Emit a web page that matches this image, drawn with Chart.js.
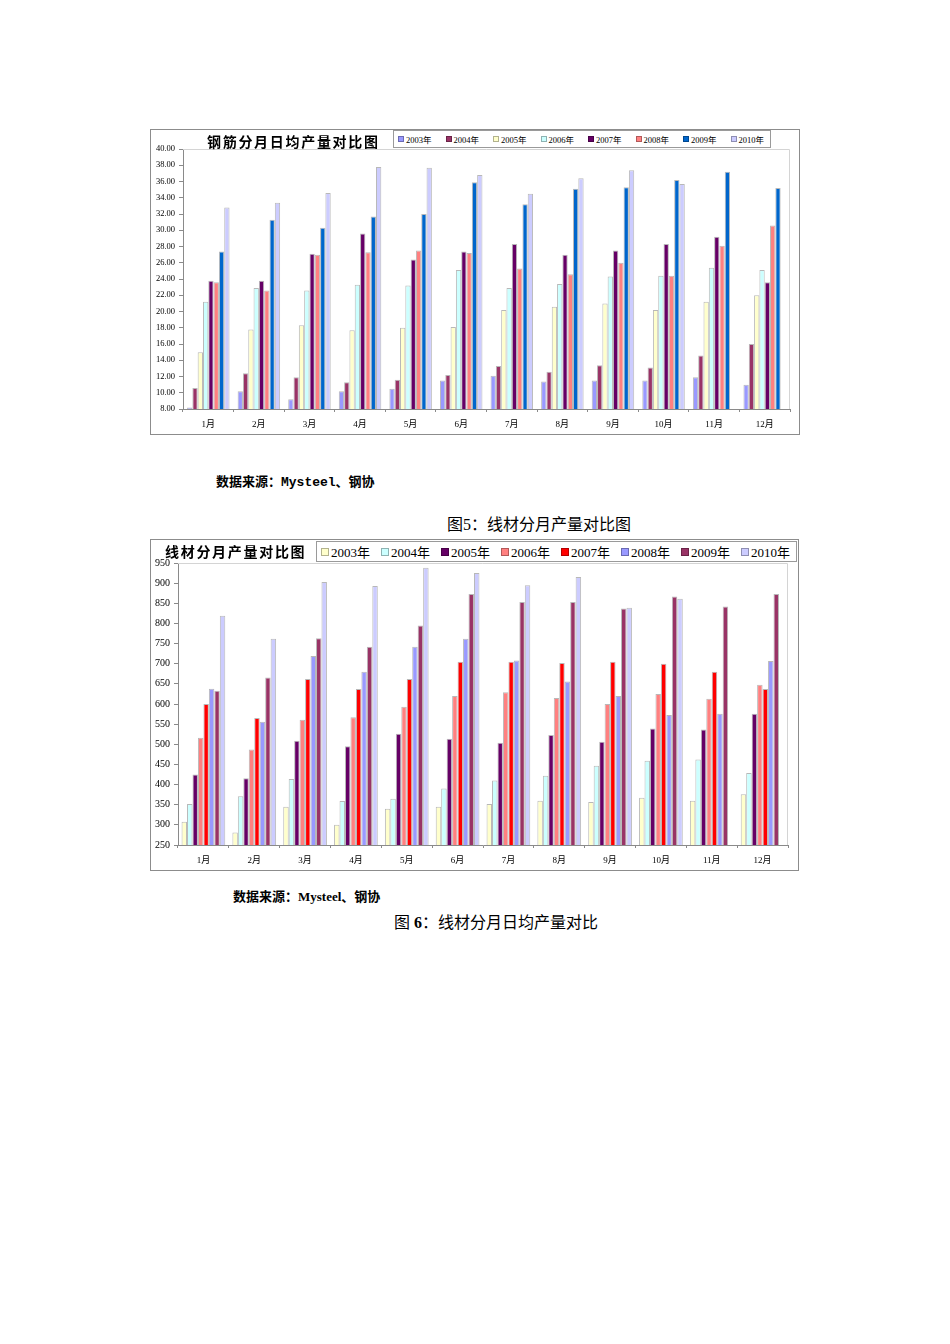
<!DOCTYPE html>
<html lang="zh-CN">
<head>
<meta charset="utf-8">
<title>钢筋 / 线材分月产量对比</title>
<script src="https://cdn.jsdelivr.net/npm/chart.js@4.4.1/dist/chart.umd.min.js"></script>
<style>
  html, body { margin: 0; padding: 0; background: #fff; }
  body { width: 950px; height: 1344px; position: relative; color: #000; font-family: "Noto Sans CJK SC", sans-serif; }
  .frame { position: absolute; border: 1px solid #8c8c8c; background: #fff; }
  .frame canvas { display: block; }
  .title { position: absolute; font-weight: bold; font-size: 14px; letter-spacing: 1.7px; white-space: nowrap; line-height: 14px; }
  .legend { position: absolute; border: 1px solid #9a9a9a; background: #fff; display: flex; align-items: center; box-sizing: border-box; font-family: "Liberation Serif", "Noto Sans CJK SC", serif; white-space: nowrap; }
  .legend .item { display: flex; align-items: center; flex: none; }
  .legend i { display: inline-block; box-sizing: border-box; border: 1px solid rgba(0,0,0,.3); margin-right: 2px; }
  .cap { position: absolute; white-space: nowrap; }
</style>
</head>
<body>

<div class="frame" style="left:150px;top:129px;width:648px;height:304px;"><canvas id="rebarChart"></canvas></div>
<div class="title" style="left:207px;top:134px;">钢筋分月日均产量对比图</div>
<div class="legend" id="rebarLegend" style="left:393px;top:130px;width:378px;height:18px;padding-left:4px;font-size:8.5px;"></div>

<div class="cap" style="left:216px;top:471px;font-size:13px;font-weight:bold;font-family:'Liberation Mono','Noto Sans CJK SC',monospace;">数据来源：Mysteel、钢协</div>
<div class="cap" style="left:447px;top:511px;font-size:16px;">图<span style="font-family:'Liberation Serif';">5</span>：线材分月产量对比图</div>

<div class="frame" style="left:150px;top:539px;width:647px;height:330px;"><canvas id="wireChart"></canvas></div>
<div class="title" style="left:165px;top:544px;">线材分月产量对比图</div>
<div class="legend" id="wireLegend" style="left:316px;top:541px;width:481px;height:21px;padding-left:4px;font-size:13px;"></div>

<div class="cap" style="left:233px;top:886px;font-size:13px;font-weight:bold;font-family:'Liberation Serif','Noto Sans CJK SC',serif;">数据来源：Mysteel、钢协</div>
<div class="cap" style="left:394px;top:909px;font-size:16px;">图<span style="font-family:'Liberation Serif';font-weight:bold;"> 6</span>：线材分月日均产量对比</div>

<script>
const months = ["1月", "2月", "3月", "4月", "5月", "6月", "7月", "8月", "9月", "10月", "11月", "12月"];
const years = ["2003年", "2004年", "2005年", "2006年", "2007年", "2008年", "2009年", "2010年"];

// 钢筋分月日均产量 (万吨)
const rebar2003 = [8.2, 10.2, 9.2, 10.2, 10.5, 11.5, 12.1, 11.4, 11.5, 11.5, 11.9, 11.0];
const rebar2004 = [10.6, 12.4, 11.9, 11.3, 11.6, 12.2, 13.3, 12.6, 13.4, 13.1, 14.6, 16.0];
const rebar2005 = [15.0, 17.8, 18.3, 17.7, 18.0, 18.1, 20.2, 20.6, 21.0, 20.2, 21.2, 22.0];
const rebar2006 = [21.2, 22.9, 22.6, 23.3, 23.2, 25.1, 22.9, 23.4, 24.3, 24.4, 25.4, 25.1];
const rebar2007 = [23.8, 23.8, 27.1, 29.6, 26.4, 27.4, 28.3, 27.0, 27.5, 28.3, 29.2, 23.6];
const rebar2008 = [23.6, 22.6, 27.0, 27.3, 27.5, 27.2, 25.3, 24.6, 26.0, 24.4, 28.1, 30.6];
const rebar2009 = [27.4, 31.3, 30.3, 31.7, 32.0, 35.9, 33.2, 35.1, 35.3, 36.2, 37.2, 35.2];
const rebar2010 = [32.8, 33.4, 34.6, 37.8, 37.7, 36.8, 34.5, 36.4, 37.4, 35.7, null, null];
const rebarColors = ["#9999FF", "#993366", "#FFFFCC", "#CCFFFF", "#660066", "#FF8080", "#0066CC", "#CCCCFF"];

// 线材分月产量 (万吨)
const wire2003 = [308, 281, 345, 300, 340, 345, 352, 360, 357, 367, 360, 376];
const wire2004 = [352, 371, 414, 359, 365, 390, 410, 422, 447, 459, 462, 429];
const wire2005 = [425, 416, 509, 495, 526, 514, 504, 523, 506, 539, 537, 576];
const wire2006 = [516, 487, 561, 567, 593, 620, 629, 615, 600, 625, 613, 648];
const wire2007 = [600, 565, 662, 637, 662, 705, 705, 702, 705, 700, 680, 637];
const wire2008 = [638, 556, 719, 680, 742, 762, 708, 656, 620, 573, 576, 707];
const wire2009 = [633, 666, 763, 742, 795, 873, 853, 853, 837, 867, 842, 873];
const wire2010 = [819, 762, 903, 893, 938, 925, 895, 915, 839, 861, null, null];
const wireColors = ["#FFFFCC", "#CCFFFF", "#660066", "#FF8080", "#FF0000", "#9999FF", "#993366", "#CCCCFF"];

const rebarSeries = [rebar2003, rebar2004, rebar2005, rebar2006, rebar2007, rebar2008, rebar2009, rebar2010];
const wireSeries = [wire2003, wire2004, wire2005, wire2006, wire2007, wire2008, wire2009, wire2010];

// light frame on top / right of the plot area
const plotFrame = {
    id: 'plotFrame',
    beforeDatasetsDraw(chart) {
        const a = chart.chartArea, c = chart.ctx;
        c.save();
        c.strokeStyle = '#d4d4d4';
        c.lineWidth = 1;
        c.beginPath();
        c.moveTo(a.left, a.top + 0.5);
        c.lineTo(a.right - 0.5, a.top + 0.5);
        c.lineTo(a.right - 0.5, a.bottom);
        c.stroke();
        c.restore();
    }
};

function makeChart(id, series, colors, yMin, yMax, yStep, decimals, opt) {
    const ctx = document.getElementById(id).getContext('2d');
    return new Chart(ctx, {
        type: 'bar',
        data: {
            labels: months,
            datasets: years.map((y, i) => ({
                label: y,
                data: series[i],
                backgroundColor: colors[i],
                borderColor: 'rgba(0,0,0,0.28)',
                borderWidth: 1,
                barPercentage: 1.0,
                categoryPercentage: opt.cat
            }))
        },
        options: {
            responsive: true,
            maintainAspectRatio: false,
            animation: false,
            layout: { padding: { top: opt.padTop, right: opt.padRight, left: 0, bottom: 0 } },
            plugins: { legend: { display: false }, tooltip: { enabled: false } },
            scales: {
                x: {
                    grid: { offset: true, drawOnChartArea: false, tickLength: 3, color: '#8a8a8a' },
                    border: { color: '#8a8a8a' },
                    ticks: { color: '#000', padding: 7, maxRotation: 0, font: { family: '"Liberation Serif", "Noto Sans CJK SC", serif', size: 9 } },
                    afterFit: (s) => { s.height = 25; }
                },
                y: {
                    min: yMin,
                    max: yMax,
                    grid: { drawOnChartArea: false, tickLength: 4, color: '#8a8a8a' },
                    border: { color: '#8a8a8a' },
                    ticks: { stepSize: yStep, color: '#000', padding: 4, font: { family: '"Liberation Serif", serif', size: opt.ySize }, callback: (v) => v.toFixed(decimals) },
                    afterFit: (s) => { s.width = opt.yWidth; }
                }
            }
        },
        plugins: [plotFrame]
    });
}

function buildLegend(elId, colors, itemWidth, box) {
    const el = document.getElementById(elId);
    years.forEach((y, i) => {
        const item = document.createElement('span');
        item.className = 'item';
        item.style.width = itemWidth + 'px';
        const sw = document.createElement('i');
        sw.style.width = box + 'px';
        sw.style.height = box + 'px';
        sw.style.background = colors[i];
        item.appendChild(sw);
        item.appendChild(document.createTextNode(y));
        el.appendChild(item);
    });
}

makeChart('rebarChart', rebarSeries, rebarColors, 8, 40, 2, 2, { cat: 0.84, padTop: 19, padRight: 9, yWidth: 32, ySize: 8.5 });
makeChart('wireChart', wireSeries, wireColors, 250, 950, 50, 0, { cat: 0.86, padTop: 23, padRight: 10, yWidth: 27, ySize: 10 });

buildLegend('rebarLegend', rebarColors, 47.5, 6);
buildLegend('wireLegend', wireColors, 60, 8);
</script>
</body>
</html>
